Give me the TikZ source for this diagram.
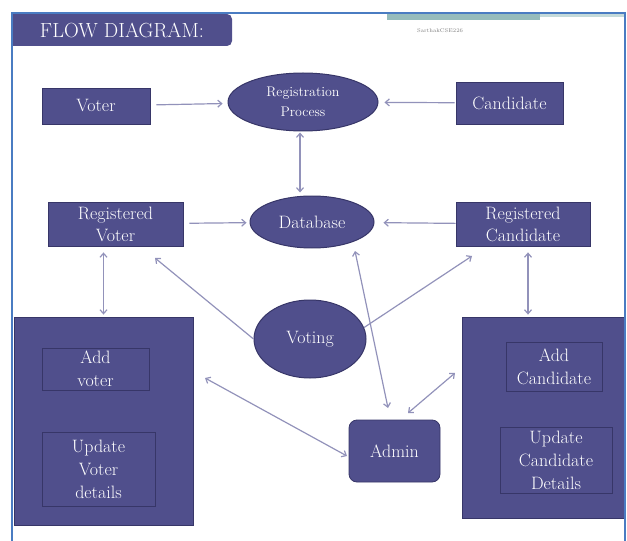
\documentclass[tikz,border=0pt]{standalone}
\usetikzlibrary{arrows.meta, calc, shapes.geometric}
\definecolor{fd}{RGB}{80,79,140}
\definecolor{fdl}{RGB}{55,54,104}
\definecolor{ln}{RGB}{146,146,186}
\definecolor{frm}{RGB}{74,124,194}
\definecolor{teal}{RGB}{150,188,188}
\definecolor{teall}{RGB}{196,218,218}
\tikzset{%
    box/.style={rectangle, fill=fd, draw=fdl, line width=0.8pt, text=white, align=center,
        inner sep=0pt, font=\fontsize{18}{22}\selectfont},
    ell/.style={ellipse, fill=fd, draw=fdl, line width=1pt, text=white, align=center,
        inner sep=0pt, font=\fontsize{18}{22}\selectfont},
    inb/.style={rectangle, draw=fdl, line width=1pt, text=white, align=center,
        inner sep=0pt, font=\fontsize{18}{23}\selectfont},
    con/.style={draw=ln, line width=1.2pt},
    cona/.style={con, -{Straight Barb[length=4pt,width=7pt]}},
    conda/.style={con, {Straight Barb[length=4pt,width=7pt]}-{Straight Barb[length=4pt,width=7pt]}},
}
\begin{document}
\begin{tikzpicture}[x=1bp, y=-1bp]
    \useasboundingbox (0,0) rectangle (627,541);
    % header
    \fill[teal] (387,14) rectangle (540,20);
    \fill[teall] (540,14) rectangle (625,17);
    \node[font=\fontsize{5.5}{6}\selectfont, text=gray] (wm) at (440,31) {SarthakCSE226};
    \fill[fd] (12,14) rectangle (60,46);
    \node[box, draw=none, rounded corners=5bp, minimum width=220bp, minimum height=32bp,
        font=\fontsize{20.5}{22}\selectfont] (title) at (122,30) {FLOW DIAGRAM:};
    % top row
    \node[box, minimum width=108bp, minimum height=36bp] (voter) at (96,106) {Voter};
    \node[ell, minimum width=150bp, minimum height=58bp,
        font=\fontsize{14}{20}\selectfont] (reg) at (303,102) {Registration\\Process};
    \node[box, minimum width=107bp, minimum height=42bp] (cand) at (509.5,103) {Candidate};
    % middle row
    \node[box, minimum width=135bp, minimum height=44bp] (rv) at (115.5,224) {Registered\\Voter};
    \node[ell, minimum width=124bp, minimum height=52bp] (db) at (312,222) {Database};
    \node[box, minimum width=134bp, minimum height=44bp] (rc) at (523,224) {Registered\\Candidate};
    \node[ell, minimum width=112bp, minimum height=78bp] (vot) at (310,339) {Voting};
    % left block
    \node[box, minimum width=179bp, minimum height=208bp] (lbox) at (103.5,421) {};
    \node[inb, minimum width=107bp, minimum height=42bp] (addv) at (95.5,369) {Add\\voter};
    \node[inb, minimum width=113bp, minimum height=74bp] (updv) at (98.5,469) {Update\\Voter\\details};
    % right block
    \node[box, minimum width=163bp, minimum height=201bp] (rbox) at (543.5,417.5) {};
    \node[inb, minimum width=96bp, minimum height=49bp] (addc) at (554,366.5) {Add\\Candidate};
    \node[inb, minimum width=112bp, minimum height=66bp] (updc) at (556,460) {Update\\Candidate\\Details};
    % admin
    \node[box, rounded corners=8bp, minimum width=91bp, minimum height=62bp] (admin) at (394.5,451) {Admin};
    % free ends
    \coordinate (rvin) at (155,258);
    \coordinate (rcin) at (472,256);
    \coordinate (dbout) at (355,251);
    \coordinate (adtop) at (388,408);
    \coordinate (lbin) at (205,378);
    \coordinate (adleft) at (347,456);
    \coordinate (adne) at (408,413);
    \coordinate (rbin) at (455,373);
    % connectors
    \draw[cona, shorten <=6bp, shorten >=5bp] (voter) -- (reg);
    \draw[cona, shorten <=1bp, shorten >=6bp] (cand) -- (reg);
    \draw[conda, shorten <=1bp, shorten >=3bp] ([xshift=-3bp]reg.south) -- ([xshift=-3bp]reg.south |- db.north);
    \draw[cona, shorten <=6bp, shorten >=3bp] (rv) -- (db);
    \draw[cona, shorten >=9bp] (rc) -- (db);
    \draw[conda, shorten <=6bp, shorten >=2bp] (lbox.north |- rv.south) -- (lbox.north);
    \draw[conda, shorten <=6bp, shorten >=2bp] ([xshift=5bp]rc.south) -- ([xshift=5bp]rc.south |- rbox.north);
    \draw[cona] (vot.west) -- (rvin);
    \draw[cona] (vot.12) -- (rcin);
    \draw[conda] (dbout) -- (adtop);
    \draw[conda] (lbin) -- (adleft);
    \draw[conda] (adne) -- (rbin);
    % frame
    \draw[frm, line width=2bp] (12,541) -- (12,13) -- (625,13) -- (625,541);
\end{tikzpicture}
\end{document}
